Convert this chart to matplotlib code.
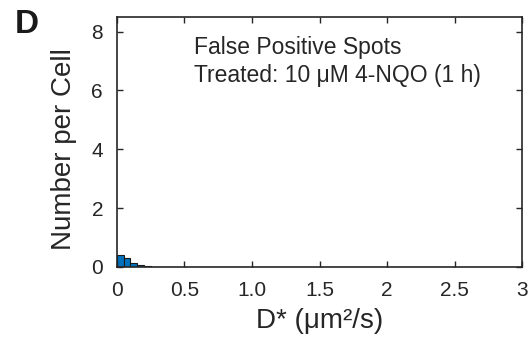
import matplotlib
matplotlib.use("Agg")
import matplotlib.pyplot as plt
import numpy as np

plt.rcParams['font.family'] = ['Liberation Sans', 'DejaVu Sans']

# Histogram of D* for false-positive spots (bin edges in um^2/s, counts per cell)
bin_edges = [0.0, 0.05, 0.10, 0.15, 0.20, 0.25, 0.30, 0.35, 0.40]
counts_per_cell = [0.42, 0.32, 0.12, 0.05, 0.03, 0.01, 0.005, 0.003]

x_ticks = [0, 0.5, 1.0, 1.5, 2, 2.5, 3]
x_tick_labels = ["0", "0.5", "1.0", "1.5", "2", "2.5", "3"]
y_ticks = [0, 2, 4, 6, 8]

fig = plt.figure(figsize=(5.29, 3.44), dpi=100)
ax = fig.add_axes([0.221, 0.224, 0.766, 0.727])

widths = np.diff(bin_edges)
ax.bar(bin_edges[:-1], counts_per_cell, width=widths, align='edge',
       color='#0072BD', edgecolor='#1a1a1a', linewidth=0.8)

ax.set_xlim(0, 3)
ax.set_ylim(0, 8.5)
ax.set_xticks(x_ticks)
ax.set_xticklabels(x_tick_labels)
ax.set_yticks(y_ticks)
ax.tick_params(direction='in', length=4, width=1, colors='#262626',
               labelsize=15, top=True, right=True, labelcolor='#262626')
ax.tick_params(axis='x', pad=10)
ax.tick_params(axis='y', pad=10)
for s in ax.spines.values():
    s.set_linewidth(1.2)
    s.set_color('#262626')

ax.set_xlabel("D* (μm²/s)", fontsize=20, color='#262626', labelpad=6)
ax.set_ylabel("Number per Cell", fontsize=20, color='#262626', labelpad=10)
ax.yaxis.label.set_y(0.47)

ax.text(0.19, 0.85, "False Positive Spots", transform=ax.transAxes,
        fontsize=16.5, color='#262626', va='baseline')
ax.text(0.19, 0.74, "Treated: 10 μM 4-NQO (1 h)", transform=ax.transAxes,
        fontsize=16.5, color='#262626', va='baseline')

fig.text(0.028, 0.905, "D", fontsize=24, fontweight='bold', color='#1a1a1a')

fig.savefig("out.png", dpi=100)
